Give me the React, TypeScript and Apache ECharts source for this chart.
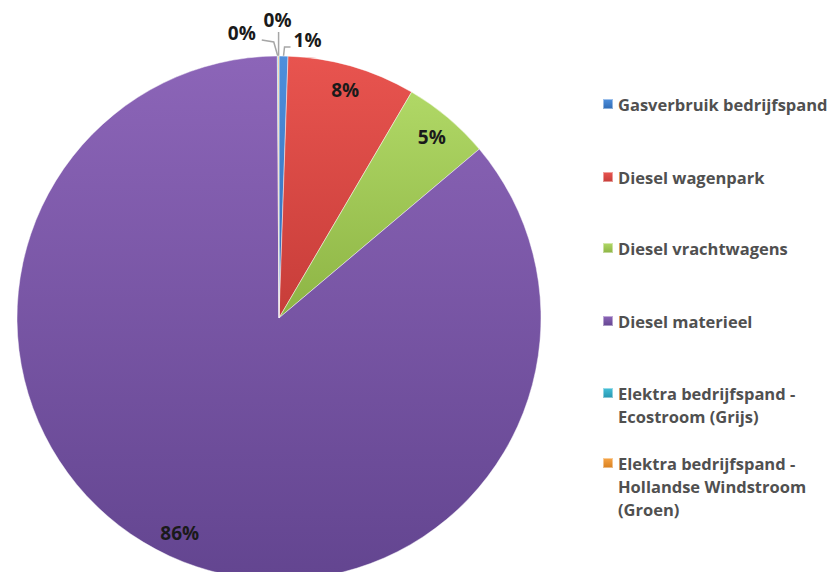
import React, { useEffect, useRef } from "react";
import * as echarts from "echarts";

const categories = [
  "Gasverbruik bedrijfspand",
  "Diesel wagenpark",
  "Diesel vrachtwagens",
  "Diesel materieel",
  "Elektra bedrijfspand - Ecostroom (Grijs)",
  "Elektra bedrijfspand - Hollandse Windstroom (Groen)",
];
const legendLines = [
  ["Gasverbruik bedrijfspand"],
  ["Diesel wagenpark"],
  ["Diesel vrachtwagens"],
  ["Diesel materieel"],
  ["Elektra bedrijfspand -", "Ecostroom (Grijs)"],
  ["Elektra bedrijfspand -", "Hollandse Windstroom", "(Groen)"],
];
const values = [0.55, 7.9, 5.4, 86.05, 0.05, 0.05];
const topColors = ["#4f8fdc", "#e8544f", "#b0d866", "#8c65b8", "#45c0d8", "#f7a445"];
const bottomColors = ["#2f6bb5", "#c73d39", "#8db444", "#634590", "#2796b0", "#d8801f"];
const insideIdx = [1, 2, 3];

function grad(i: number) {
  return new echarts.graphic.LinearGradient(0, 0, 0, 1, [
    { offset: 0, color: topColors[i] },
    { offset: 1, color: bottomColors[i] },
  ]);
}

export default function App() {
  const ref = useRef<HTMLDivElement>(null);
  useEffect(() => {
    const chart = echarts.init(ref.current!, null, { renderer: "svg" });
    const fmt = (p: any) => Math.round(p.value) + "%";
    const LH = 23;
    const firstLineCenters = [104, 177, 248, 321, 393, 463];
    const legends = categories.map((c, i) => {
      const lines = legendLines[i];
      const pad = new Array(lines.length - 1).fill("");
      const text = [...pad, ...lines].join("\n");
      const total = (2 * lines.length - 1) * LH;
      return {
        data: [c],
        orient: "vertical",
        left: 602,
        top: firstLineCenters[i] - total / 2,
        padding: 0,
        itemWidth: 10,
        itemHeight: 10,
        icon: "rect",
        selectedMode: false,
        formatter: () => text,
        textStyle: {
          fontFamily: "Open Sans",
          fontWeight: "bold",
          fontSize: 16.5,
          color: "#505050",
          lineHeight: LH,
        },
      };
    });
    const small: Record<number, (s: number[]) => any> = {
      0: (s) => ({ x: s[0] + 10, y: s[1] - 16, align: "left", verticalAlign: "middle",
        labelLinePoints: [s, [s[0] + 1, s[1] - 9], [s[0] + 7, s[1] - 9]] }),
      4: (s) => ({ x: s[0] - 36, y: s[1] - 23, align: "center", verticalAlign: "middle",
        labelLinePoints: [s, [s[0] - 4, s[1] - 14], [s[0] - 16, s[1] - 16]] }),
      5: (s) => ({ x: s[0] - 1, y: s[1] - 36, align: "center", verticalAlign: "middle",
        labelLinePoints: [s, [s[0], s[1] - 12], [s[0], s[1] - 24]] }),
    };
    chart.setOption({
      animation: false,
      legend: legends,
      series: [
        {
          type: "pie",
          center: [279, 318],
          radius: 262,
          startAngle: 90,
          clockwise: true,
          avoidLabelOverlap: false,
          itemStyle: { borderColor: "rgba(255,255,255,0.45)", borderWidth: 1 },
          label: {
            show: true,
            position: "outside",
            formatter: fmt,
            fontFamily: "Open Sans",
            fontWeight: "bold",
            fontSize: 19,
            color: "#1a1a1a",
          },
          labelLine: { show: true, length: 10, length2: 8, lineStyle: { color: "#a6a6a6", width: 1.5 } },
          labelLayout: (p: any) => {
            const f = small[p.dataIndex];
            if (!f || !p.labelLinePoints) return {};
            return f(p.labelLinePoints[0]);
          },
          data: categories.map((c, i) => ({
            name: c,
            value: values[i],
            itemStyle: { color: grad(i) },
            label: { show: !insideIdx.includes(i) },
            labelLine: { show: !insideIdx.includes(i) },
          })),
        },
        {
          type: "pie",
          center: [279, 318],
          radius: [206, 262],
          startAngle: 90,
          clockwise: true,
          silent: true,
          itemStyle: { color: "rgba(0,0,0,0)" },
          label: {
            show: true,
            position: "inside",
            formatter: fmt,
            fontFamily: "Open Sans",
            fontWeight: "bold",
            fontSize: 19,
            color: "#1a1a1a",
          },
          labelLine: { show: false },
          data: categories.map((c, i) => ({
            name: c + " ",
            value: values[i],
            label: { show: insideIdx.includes(i) },
          })),
        },
      ],
    });
    return () => chart.dispose();
  }, []);
  return (
    <div
      ref={ref}
      style={{ position: "fixed", left: 0, top: 0, width: 836, height: 572, background: "#fff" }}
    />
  );
}
